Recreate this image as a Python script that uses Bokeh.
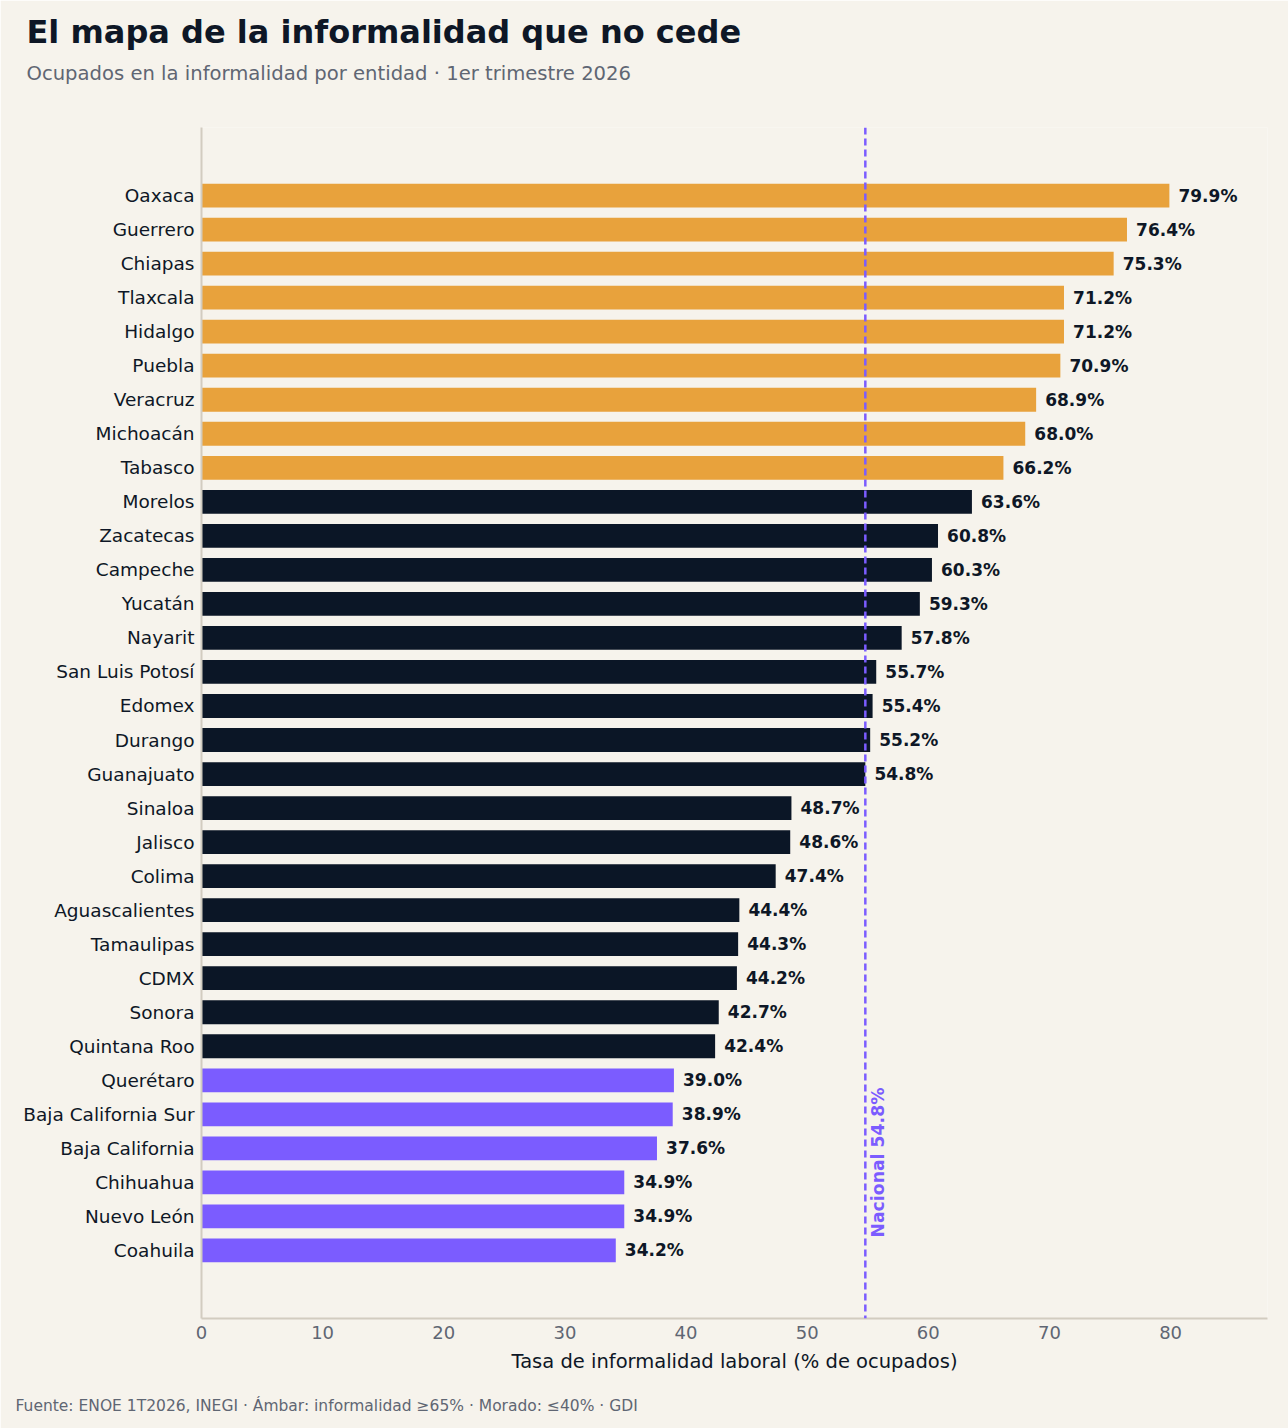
from bokeh.plotting import figure
from bokeh.models import ColumnDataSource, Label, Span, FixedTicker, Range1d, Title
from bokeh.core.properties import value
from bokeh.embed import file_html
from bokeh.resources import INLINE

# Informality rate by state, 1T2026 (highest first)
states = ["Oaxaca", "Guerrero", "Chiapas", "Tlaxcala", "Hidalgo", "Puebla", "Veracruz",
          "Michoacán", "Tabasco", "Morelos", "Zacatecas", "Campeche", "Yucatán", "Nayarit",
          "San Luis Potosí", "Edomex", "Durango", "Guanajuato", "Sinaloa", "Jalisco", "Colima",
          "Aguascalientes", "Tamaulipas", "CDMX", "Sonora", "Quintana Roo", "Querétaro",
          "Baja California Sur", "Baja California", "Chihuahua", "Nuevo León", "Coahuila"]
rates = [79.9, 76.4, 75.3, 71.2, 71.2, 70.9, 68.9, 68.0, 66.2, 63.6, 60.8, 60.3, 59.3, 57.8,
         55.7, 55.4, 55.2, 54.8, 48.7, 48.6, 47.4, 44.4, 44.3, 44.2, 42.7, 42.4, 39.0, 38.9,
         37.6, 34.9, 34.9, 34.2]
national = 54.8
x_ticks = [0, 10, 20, 30, 40, 50, 60, 70, 80]

AMBER = "#E8A23C"
NAVY = "#0B1626"
PURPLE = "#7B5CFF"
BG = "#F6F3EC"
INK = "#0E1726"
GREY = "#5F6673"
FONT = "DejaVu Sans"

n = len(states)
ypos = [n - 1 - i for i in range(n)]
colors = [AMBER if r >= 65 else (PURPLE if r <= 40 else NAVY) for r in rates]
labels = [f"{r:.1f}%" for r in rates]

src = ColumnDataSource(dict(y=ypos, rate=rates, color=colors,
                            lx=[r + 0.75 for r in rates], label=labels))

p = figure(width=1288, height=1428, output_backend="svg", toolbar_location=None,
           title=None, x_range=Range1d(0, 88), y_range=Range1d(-2, n + 1),
           min_border_left=201, min_border_right=21, min_border_top=127,
           min_border_bottom=110, background_fill_color=BG, border_fill_color=BG,
           outline_line_color=None)

p.hbar(y="y", right="rate", left=0, height=0.7, color="color", line_color=None, source=src)
p.text(x="lx", y="y", text="label", source=src, text_font_size="17px",
       text_font_style="bold", text_color=INK, text_baseline="middle", text_align="left",
       text_font=value(FONT))

p.add_layout(Span(location=national, dimension="height", line_color=PURPLE,
                  line_width=2.5, line_dash="7 4"))
p.add_layout(Label(x=national + 0.25, y=0.38, text=f"Nacional {national}%", angle=1.5708,
                   text_color=PURPLE, text_font_style="bold", text_font_size="17.3px",
                   text_align="left", text_baseline="top", text_font=FONT))

p.grid.visible = False

xa = p.xaxis[0]
xa.ticker = FixedTicker(ticks=x_ticks)
xa.axis_label = "Tasa de informalidad laboral (% de ocupados)"
xa.axis_label_text_font = FONT
xa.axis_label_text_font_style = "normal"
xa.axis_label_text_font_size = "19.5px"
xa.axis_label_text_color = INK
xa.axis_label_standoff = 8
xa.major_label_text_font = FONT
xa.major_label_text_font_size = "18px"
xa.major_label_text_color = GREY
xa.axis_line_color = "#D2CCC0"
xa.axis_line_width = 2
xa.major_tick_line_color = None
xa.minor_tick_line_color = None
xa.major_tick_out = 0
xa.major_tick_in = 0
xa.minor_tick_out = 0
xa.major_label_standoff = 7

ya = p.yaxis[0]
ya.ticker = FixedTicker(ticks=ypos)
ya.major_label_overrides = {y: s for y, s in zip(ypos, states)}
ya.major_label_text_font = FONT
ya.major_label_text_font_size = "18.5px"
ya.major_label_text_color = INK
ya.axis_line_color = "#D2CCC0"
ya.axis_line_width = 2
ya.major_tick_line_color = None
ya.minor_tick_line_color = None
ya.major_tick_out = 0
ya.major_tick_in = 0
ya.minor_tick_out = 0
ya.major_label_standoff = 7

# Title block above the frame (first added sits closest to the frame).
# Padding is given as (left, right, top, bottom); the subtitle hangs from
# the top of its box so its bottom padding becomes the gap to the plot.
p.add_layout(Title(text="Ocupados en la informalidad por entidad · 1er trimestre 2026",
                   align="left", offset=-175, standoff=2, vertical_align="top",
                   padding=(0, 0, 0, 40), text_font=FONT, text_font_size="19.6px",
                   text_font_style="normal", text_color=GREY),
             "above")
p.add_layout(Title(text="El mapa de la informalidad que no cede",
                   align="left", offset=-175, standoff=20, text_font=FONT,
                   text_font_size="32px", text_font_style="bold", text_color=INK),
             "above")

# Source note under the x axis; top padding pushes it away from the axis label
p.add_layout(Title(text="Fuente: ENOE 1T2026, INEGI · Ámbar: informalidad ≥65% · Morado: ≤40% · GDI",
                   align="left", offset=-186, standoff=24, padding=(0, 0, 7, 0),
                   text_font=FONT, text_font_size="15.5px", text_font_style="normal",
                   text_color=GREY),
             "below")

open("out.html", "w").write(file_html(p, INLINE))
